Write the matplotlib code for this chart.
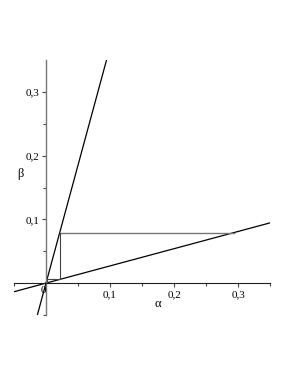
import matplotlib
matplotlib.use("Agg")
import matplotlib.pyplot as plt
import numpy as np

# data
line_x = [-0.05, 0.35]
steep_x = [-0.0135, 0.0946]
steep_y = [-0.05, 0.35]
shallow_y = [-0.0135, 0.0945]
cobweb_x = [0.293, 0.022, 0.022, 0.0016, 0.0016]
cobweb_y = [0.079, 0.079, 0.006, 0.006, 0.0004]
xticks = [0.1, 0.2, 0.3]
yticks = [0.1, 0.2, 0.3]
xticklabels = ["0,1", "0,2", "0,3"]
yticklabels = ["0,1", "0,2", "0,3"]

plt.rcParams['font.family'] = ['Liberation Serif', 'DejaVu Serif']

fig = plt.figure(figsize=(2.91, 3.76), dpi=100)
ax = fig.add_axes([14/291, (376-315)/376, 256/291, 255/376])
ax.set_xlim(-0.05, 0.35)
ax.set_ylim(-0.05, 0.35)

ax.plot(line_x, shallow_y, color='black', lw=0.9)
ax.plot(steep_x, steep_y, color='black', lw=0.9)
ax.plot(cobweb_x[:2], cobweb_y[:2], color='#777777', lw=1.0)
ax.plot(cobweb_x[1:], cobweb_y[1:], color='#444444', lw=0.8)

for s in ['top', 'right']:
    ax.spines[s].set_visible(False)
ax.spines['left'].set_position(('data', 0))
ax.spines['bottom'].set_position(('data', 0))
ax.spines['left'].set_color('#777777')
ax.spines['bottom'].set_color('#222222')
ax.spines['left'].set_linewidth(1.0)
ax.spines['bottom'].set_linewidth(0.8)

ax.set_xticks(xticks)
ax.set_xticklabels(xticklabels)
ax.set_yticks(yticks)
ax.set_yticklabels(yticklabels)
ax.set_xticks([-0.05, 0.05, 0.15, 0.25, 0.35], minor=True)
ax.set_yticks([-0.05, 0.05, 0.15, 0.25], minor=True)
ax.tick_params(axis='both', which='major', length=3, width=0.8, labelsize=8, pad=2, color='#444444')
ax.tick_params(axis='both', which='minor', length=2, width=0.8, color='#444444')
ax.tick_params(axis='x', direction='out')
ax.tick_params(axis='y', direction='out')

ax.text(-0.004, -0.005, "0", fontsize=8, ha='center', va='top')
ax.text(0.174, -0.032, "α", fontsize=9, ha='center', va='center')
ax.text(-0.04, 0.171, "β", fontsize=9, ha='center', va='center')

fig.savefig("out.png", dpi=100)
